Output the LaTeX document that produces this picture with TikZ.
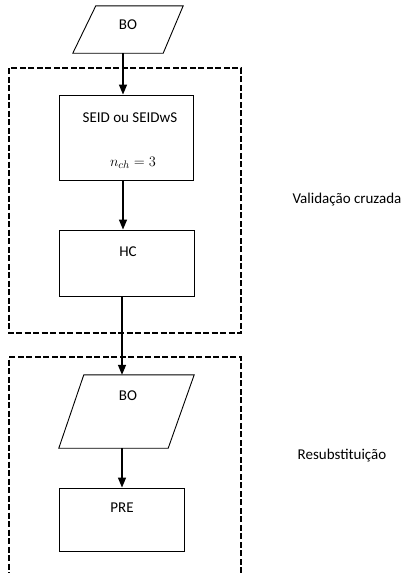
\documentclass[tikz,border=0pt]{standalone}
\usepackage{fontspec}
\setmainfont{Carlito}
\usetikzlibrary{arrows.meta}
\begin{document}
\begin{tikzpicture}[x=1pt,y=-1pt,
  lbl/.style={font=\fontsize{15}{18}\selectfont, inner sep=0pt, anchor=center},
  box/.style={draw, line width=0.9pt},
  arr/.style={line width=1.5pt, -{Triangle[length=10pt,width=8pt]}},
  group/.style={draw, line width=1.4pt, dash pattern=on 6pt off 2.5pt},
  hold/.style={draw=none, inner sep=0pt, minimum width=#1}]
\useasboundingbox (0,0) rectangle (405,573);
% group boxes
\draw[group] (9,68) rectangle (241,333);
\draw[group] (241,590) -- (241,357) -- (9,357) -- (9,590);
% shapes
\node[hold=110pt, minimum height=47pt] (bo1) at (128,29.5) {};
\draw[box] ([xshift=23pt]bo1.north west) -- (bo1.north east) -- ([xshift=-20pt]bo1.south east) -- (bo1.south west) -- cycle;
\node[lbl] (bo1t) at (128,25) {BO};
\node[box, minimum width=134pt, minimum height=85pt, inner sep=0pt] (seid) at (126,137.5) {};
\node[lbl] (seidt) at (130,117.5) {SEID ou SEIDwS};
\node[lbl] (seidm) at (133,163) {$n_{ch}=3$};
\node[box, minimum width=135pt, minimum height=66pt, inner sep=0pt] (hc) at (126.5,263) {};
\node[lbl] (hct) at (128,252) {HC};
\node[hold=135pt, minimum height=73pt] (bo2) at (126.5,411.5) {};
\draw[box] ([xshift=25pt]bo2.north west) -- (bo2.north east) -- ([xshift=-26pt]bo2.south east) -- (bo2.south west) -- cycle;
\node[lbl] (bo2t) at (128,396) {BO};
\node[box, minimum width=125pt, minimum height=63pt, inner sep=0pt] (pre) at (121.5,519.5) {};
\node[lbl] (pret) at (122,508) {PRE};
% side labels
\node[lbl] (val) at (347,200) {Validação cruzada};
\node[lbl] (res) at (342,456) {Resubstituição};
% arrows
\coordinate (ax) at (123,0);
\coordinate (bx) at (122,0);
\draw[arr] (bo1.south -| ax) -- (seid.north -| ax);
\draw[arr] (seid.south -| ax) -- (hc.north -| ax);
\draw[arr] (hc.south -| bx) -- (bo2.north -| bx);
\draw[arr] (bo2.south -| bx) -- (pre.north -| bx);
\end{tikzpicture}
\end{document}
